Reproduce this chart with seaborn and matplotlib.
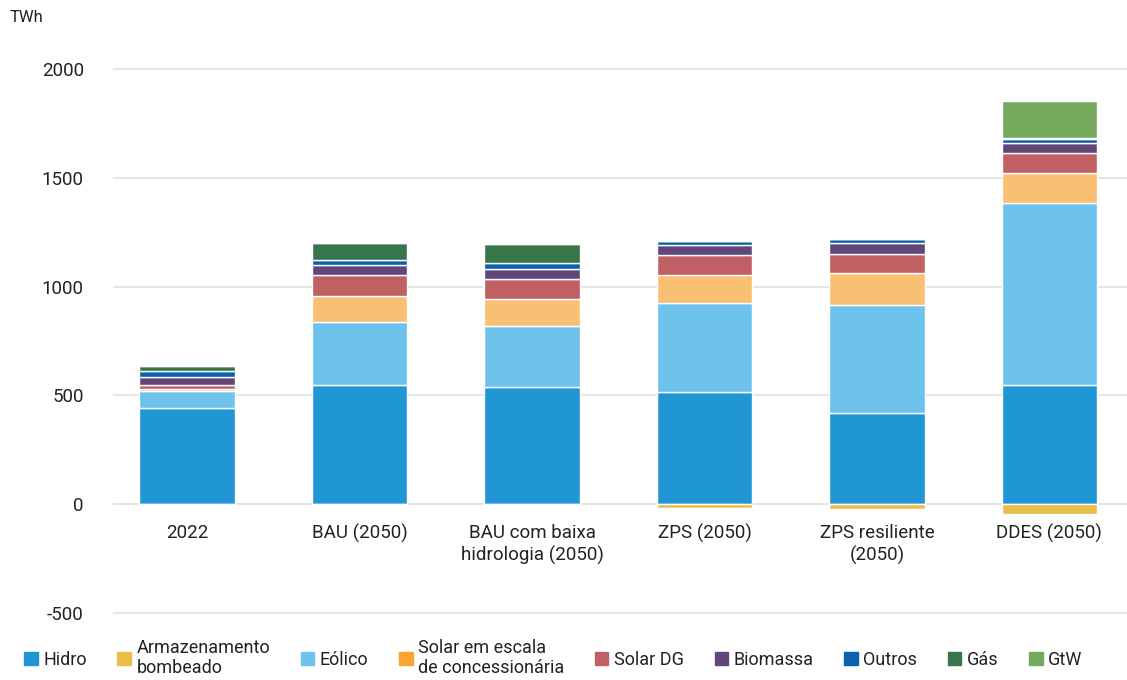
import numpy as np
import pandas as pd
import seaborn as sns
import matplotlib.pyplot as plt
from matplotlib.patches import Patch

categories = ["2022", "BAU (2050)", "BAU com baixa\nhidrologia (2050)", "ZPS (2050)",
              "ZPS resiliente\n(2050)", "DDES (2050)"]

hidro = [440, 550, 537, 518, 417, 550]
armazenamento = [0, 0, 0, -17, -23, -43]
eolico = [80, 289, 284, 409, 500, 832]
solar_util = [11, 120, 124, 128, 144, 139]
solar_dg = [19, 93, 92, 90, 90, 91]
biomassa = [36, 46, 46, 48, 48, 47]
outros = [24, 25, 27, 18, 20, 20]
gas = [24, 79, 87, 0, 0, 3]
gtw = [0, 0, 0, 0, 0, 170]

series = [
    ("Hidro", hidro, "#2196d4", "#2196d4"),
    ("Eólico", eolico, "#6ec3ec", "#6ec3ec"),
    ("Solar em escala\nde concessionária", solar_util, "#f9c074", "#f9a533"),
    ("Solar DG", solar_dg, "#c06065", "#c06065"),
    ("Biomassa", biomassa, "#624679", "#624679"),
    ("Outros", outros, "#0a61ae", "#0a61ae"),
    ("Gás", gas, "#37754a", "#37754a"),
    ("GtW", gtw, "#74a95e", "#74a95e"),
]
stor_color = "#ebbe4a"

sns.set_theme(style="white")
plt.rcParams["font.family"] = ["Roboto", "DejaVu Sans"]
text_color = "#222222"

fig = plt.figure(figsize=(11.27, 6.8), dpi=100)
ax = fig.add_axes([113 / 1127, 0.0857, 1 - 113 / 1127, 0.832])

bar_w = 0.555
bottom = np.zeros(len(categories))
for name, vals, col, _ in series:
    sns.barplot(x=categories, y=vals, order=categories, bottom=bottom, color=col,
                width=bar_w, saturation=1, ax=ax, zorder=3)
    bottom = bottom + np.array(vals)
sns.barplot(x=categories, y=armazenamento, order=categories, color=stor_color,
            width=bar_w, saturation=1, ax=ax, zorder=3)

ax.set_xlim(-0.43, 5.45)
ax.set_ylim(-540, 2060)
ax.set_yticks([-500, 0, 500, 1000, 1500, 2000])
ax.set_yticklabels(["-500", "0", "500", "1000", "1500", "2000"])
ax.yaxis.grid(True, color="#e0e0e0", linewidth=1.2, zorder=0)
ax.set_axisbelow(True)
for s in ax.spines.values():
    s.set_visible(False)
ax.tick_params(axis="y", length=0, pad=21, labelsize=13.5, labelcolor=text_color)
ax.set_xticks([])
ax.set_xlabel("")
ax.set_ylabel("")

for i, lab in enumerate(categories):
    ax.text(i, -92, lab, ha="center", va="top", fontsize=13.5, color=text_color,
            linespacing=1.25)

fig.text(10 / 1127, 1 - 18 / 680, "TWh", fontsize=12, color=text_color, va="center")

handles = [Patch(color=series[0][3]), Patch(color=stor_color)]
labels = [series[0][0], "Armazenamento\nbombeado"]
for name, vals, col, lcol in series[1:]:
    handles.append(Patch(color=lcol))
    labels.append(name)
fig.legend(handles, labels, loc="center left", bbox_to_anchor=(8 / 1127, 1 - 658 / 680),
           ncol=9, frameon=False, fontsize=13, handlelength=0.75, handleheight=0.75,
           handletextpad=0.3, columnspacing=1.7, labelcolor=text_color,
           labelspacing=0.2)

fig.savefig("out.png", dpi=100)
